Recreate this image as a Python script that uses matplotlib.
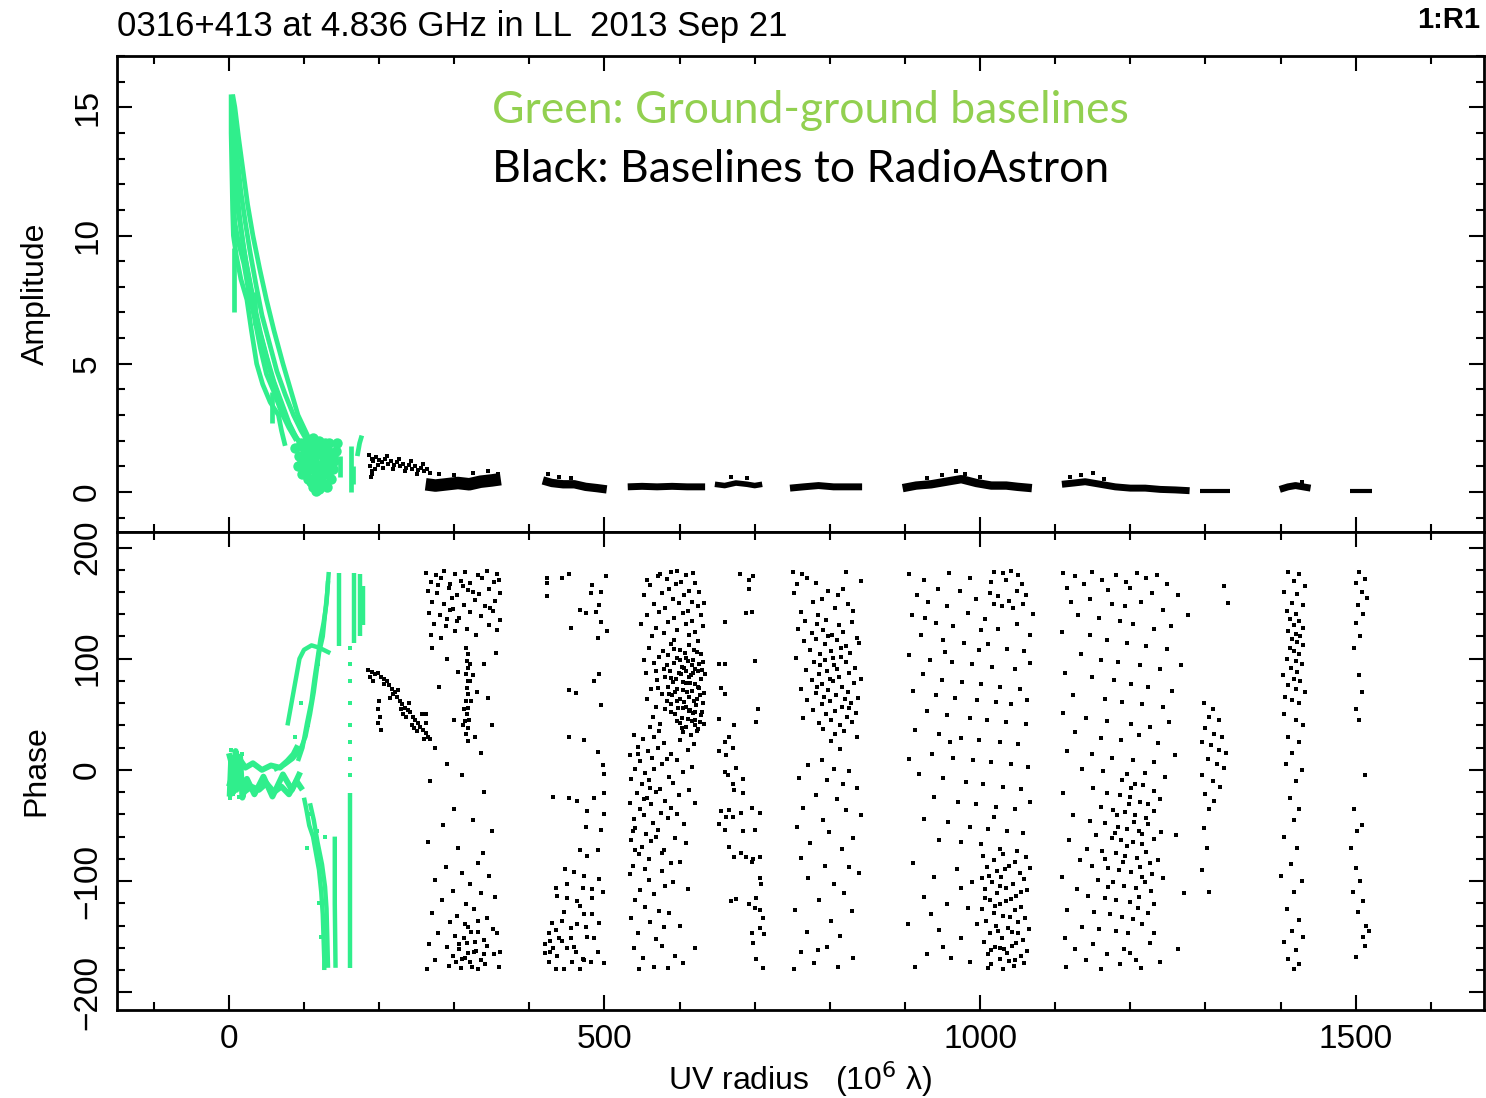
import matplotlib
matplotlib.use('Agg')
import matplotlib.pyplot as plt
from matplotlib.ticker import MultipleLocator

# ---------------------------------------------------------------- data
# UV radius in units of 10^6 lambda; amplitude in Jy; phase in degrees

title = "0316+413 at 4.836 GHz in LL  2013 Sep 21"
panel_id = "1:R1"
note_green = "Green: Ground-ground baselines"
note_black = "Black: Baselines to RadioAstron"

# ground-ground amplitude tracks
ground_amp_tracks = [
    [(3, 15.5), (3, 14.0), (4, 12.5), (5, 11.0), (6, 10.0), (10, 9.2), (16, 8.3), (24, 7.5), (30, 6.3),
     (37, 5.0), (45, 4.2), (55, 3.5), (66, 3.0), (70, 2.4), (75, 1.8)],
    [(5, 15.5), (8, 15.0), (13, 13.8), (19, 12.5), (25, 11.2), (32, 10.0), (41, 8.7), (50, 7.5),
     (60, 6.3), (72, 5.0), (82, 4.0), (92, 3.0), (100, 2.5), (108, 2.0)],
    [(4, 15.0), (6, 13.5), (10, 12.0), (14, 10.8), (19, 9.6), (26, 8.5), (34, 7.3), (42, 6.2), (51, 5.2),
     (60, 4.3), (70, 3.5), (80, 2.7), (90, 2.1), (98, 1.8)],
    [(4, 14.2), (8, 12.6), (12, 11.0), (17, 10.1), (23, 8.9), (30, 7.8), (38, 6.6), (47, 5.6), (56, 4.6),
     (66, 3.7), (76, 2.9), (86, 2.3), (95, 1.9)],
    [(6, 14.5), (11, 13.1), (16, 11.7), (22, 10.5), (28, 9.4), (36, 8.1), (44, 6.9), (54, 5.8), (64, 4.7),
     (75, 3.8), (86, 3.0), (96, 2.4), (104, 2.0)],
    [(5, 11.8), (8, 10.5), (13, 9.7), (20, 8.9), (27, 7.7), (34, 6.8), (42, 5.6), (50, 4.6), (60, 3.9),
     (70, 3.1), (80, 2.5), (90, 2.0)],
    [(7, 7.0), (7, 9.5)],
    [(57, 2.7), (57, 3.9)],
    [(35, 6.5), (35, 7.8)],
    [(148, 0.6), (148, 1.4)],
    [(162, 0.0), (162, 1.8)],
    [(165, 0.3), (165, 1.0)],
    [(171, 1.4), (174, 1.9), (177, 2.2)],
]
ground_amp_blob = [
    (96, 1.9), (100, 1.7), (104, 2.0), (108, 1.8), (112, 2.1), (116, 1.9), (120, 2.0), (124, 1.8),
    (128, 1.9), (132, 1.6), (136, 1.5), (140, 1.2), (94, 1.4), (98, 1.2), (102, 1.5), (106, 1.3),
    (110, 1.6), (114, 1.4), (118, 1.6), (122, 1.5), (126, 1.3), (130, 1.4), (134, 1.1), (138, 0.9),
    (100, 0.9), (104, 0.8), (108, 1.0), (112, 0.9), (116, 1.1), (120, 0.9), (124, 1.0), (128, 0.8),
    (132, 0.7), (136, 0.5), (106, 0.5), (110, 0.4), (114, 0.6), (118, 0.3), (122, 0.5), (126, 0.3),
    (130, 0.2), (116, 0.05), (120, 0.1), (112, 0.2), (142, 1.6), (144, 1.9), (88, 1.7), (92, 1.0),
    (103, 1.1), (127, 1.6), (133, 1.9), (139, 1.4), (97, 0.7), (124, 0.65),
]

# space-baseline amplitudes: scan-averaged bands plus scattered points
space_amp_bands = [
    [(262, 0.3), (275, 0.25), (290, 0.3), (305, 0.35), (320, 0.3), (335, 0.4), (350, 0.45), (362, 0.5)],
    [(418, 0.45), (430, 0.35), (445, 0.3), (460, 0.3), (475, 0.2), (490, 0.15), (503, 0.1)],
    [(531, 0.2), (550, 0.22), (570, 0.2), (590, 0.22), (610, 0.2), (634, 0.2)],
    [(647, 0.3), (660, 0.25), (675, 0.35), (690, 0.3), (700, 0.25), (710, 0.3)],
    [(747, 0.15), (765, 0.2), (785, 0.25), (805, 0.2), (825, 0.2), (843, 0.2)],
    [(897, 0.15), (915, 0.25), (935, 0.3), (955, 0.4), (975, 0.5), (995, 0.35), (1015, 0.25),
     (1035, 0.25), (1050, 0.2), (1069, 0.15)],
    [(1109, 0.3), (1125, 0.35), (1140, 0.4), (1160, 0.3), (1180, 0.2), (1200, 0.15), (1220, 0.15),
     (1240, 0.1), (1260, 0.08), (1279, 0.05)],
    [(1293, 0.05), (1310, 0.05), (1333, 0.05)],
    [(1399, 0.1), (1410, 0.2), (1420, 0.25), (1430, 0.2), (1440, 0.15)],
    [(1492, 0.05), (1505, 0.05), (1522, 0.05)],
]
space_amp_points = [
    (186, 1.45), (190, 1.3), (192, 1.2), (196, 1.35), (200, 1.25), (204, 1.15), (208, 1.3), (212, 1.1),
    (216, 1.2), (220, 1.05), (224, 1.15), (228, 1.0), (232, 1.1), (236, 0.95), (240, 1.05), (244, 0.9),
    (248, 1.0), (252, 0.85), (256, 0.95), (260, 0.8), (264, 0.9), (268, 0.75), (188, 1.0), (190, 0.8),
    (194, 0.9), (198, 1.05), (205, 0.95), (210, 1.4), (218, 0.9), (226, 1.3), (234, 0.8), (242, 1.2),
    (250, 0.7), (258, 1.1), (189, 0.6), (191, 0.7),
    (280, 0.7), (300, 0.65), (325, 0.75), (345, 0.8), (358, 0.7),
    (425, 0.7), (440, 0.6), (455, 0.55), (668, 0.6), (690, 0.55),
    (930, 0.55), (950, 0.65), (968, 0.8), (980, 0.7), (1000, 0.6),
    (1120, 0.6), (1135, 0.65), (1150, 0.75), (1165, 0.5), (1428, 0.4),
]

# ground-ground phases
ground_phase_tracks = [
    [(0, -15), (5, -5), (10, -18), (15, -8), (20, -20), (30, -15), (40, -18), (50, -12), (60, -20),
     (70, -15), (80, -22), (90, -10), (98, -18)],
    [(0, 15), (4, 5), (8, 12), (12, -2), (16, 8), (22, 2), (32, 6), (44, 0), (56, 4), (68, 2),
     (78, 8), (86, 14), (92, 22)],
    [(1, -24), (3, 10), (6, -20), (9, 17), (12, -12), (15, 12), (18, -25), (24, -8), (34, -22),
     (46, -6), (58, -24), (72, -4), (84, -18), (95, -2)],
    [(60, 0), (75, 5), (85, 10), (95, 18), (102, 30), (108, 50), (113, 70), (117, 90), (120, 105),
     (125, 120), (128, 140), (131, 160), (133, 178)],
    [(78, 40), (82, 55), (86, 70), (90, 85), (94, 100), (100, 108), (110, 112), (120, 110), (135, 105)],
    [(92, 8), (98, 20), (104, 42), (110, 62), (114, 82), (118, 100), (122, 118), (126, 132), (130, 150),
     (132, 170)],
    [(100, -25), (103, -35), (107, -50), (112, -60), (116, -75), (120, -90), (123, -110), (125, -130),
     (126, -150), (127, -170), (127, -180)],
    [(108, -30), (113, -45), (118, -65), (124, -85), (128, -105), (130, -125), (131, -150), (132, -178)],
    [(141, -60), (141, -120), (142, -178)],
    [(146, 111), (146, 177)],
    [(161, -21), (161, -178)],
    [(166, 114), (166, 177)],
    [(174, 120), (174, 176)],
    [(178, 130), (178, 165)],
]
ground_phase_points = [
    (1, -25), (3, 18), (6, -22), (9, 16), (13, -24), (17, 14), (2, 0), (8, -10), (14, 5), (19, -12),
    (161, 110), (161, 95), (161, 80), (161, 60), (161, 40), (161, 25), (161, 10), (161, -5),
    (118, 95), (105, 40), (96, 60), (88, 30), (110, -40), (117, -55), (104, -70), (120, -120),
    (122, -150), (128, -60),
]

# space-baseline phases, grouped by scan
space_phase_a = [
    (185, 90), (190, 88), (194, 86), (198, 87), (202, 84), (206, 82), (210, 80), (213, 76), (217, 73),
    (221, 70), (224, 66), (228, 62), (231, 59), (235, 56), (238, 54), (241, 52), (245, 48), (248, 45),
    (252, 42), (255, 39), (258, 36), (262, 33), (265, 30), (268, 28), (200, 62), (199, 55), (201, 48),
    (198, 42), (202, 36), (215, 65), (225, 72), (232, 50), (240, 60), (250, 35), (257, 50), (262, 42),
    (244, 40), (236, 48), (188, 84), (192, 80), (207, 77), (219, 68), (229, 55), (247, 38), (260, 28),
]
space_phase_b = [
    (263, 177), (276, 175), (287, 179), (301, 176), (314, 178), (331, 175), (344, 179), (357, 176),
    (269, 169), (283, 173), (294, 167), (309, 170), (321, 168), (337, 173), (353, 169), (265, 161),
    (277, 159), (293, 164), (304, 157), (319, 162), (333, 158), (346, 163), (361, 159), (271, 151),
    (286, 149), (297, 155), (313, 148), (327, 153), (341, 147), (354, 152), (267, 141), (281, 139),
    (295, 144), (307, 137), (321, 142), (335, 138), (351, 143), (273, 131), (289, 129), (304, 134),
    (317, 127), (346, 130), (361, 135), (269, 121), (283, 119), (301, 125), (329, 121), (357, 126),
    (279, 166), (325, 160), (348, 146), (290, 136), (312, 165), (360, 171), (299, 145),
    (316, 110), (318, 104), (317, 98), (319, 92), (316, 86), (318, 80), (317, 74), (319, 68), (316, 62),
    (318, 56), (317, 50), (315, 44), (318, 38), (316, 32), (319, 26), (321, 95), (321, 80), (322, 62),
    (320, 45), (312, 40), (313, 55), (325, 85), (328, 30), (330, 70),
    (270, 110), (290, 100), (305, 88), (340, 95), (355, 105), (280, 75), (345, 65), (262, 50), (300, 45),
    (350, 40), (275, 20), (335, 15), (290, 5), (310, -5), (268, -10), (340, -20), (300, -35), (285, -50),
    (325, -45), (350, -55), (265, -65), (305, -70), (338, -75),
    (289, -87), (311, -93), (331, -84), (274, -99), (321, -103), (346, -95), (299, -109), (336, -111),
    (284, -117), (316, -121), (354, -114), (271, -129), (304, -131), (326, -125), (343, -133), (294, -137),
    (319, -141), (332, -136), (351, -143), (279, -147), (301, -149), (313, -151), (323, -146), (339, -153),
    (357, -147), (267, -157), (291, -159), (307, -161), (317, -156), (329, -163), (344, -158), (299, -167),
    (314, -169), (326, -164), (336, -171), (353, -166), (361, -164), (274, -171), (293, -176), (309, -178),
    (321, -173), (331, -179), (341, -175), (359, -177), (264, -179), (306, -157), (314, -139), (331, -146),
    (318, -165), (324, -177), (311, -170), (340, -166), (328, -155), (302, -173),
]
space_phase_c = [
    (423, 173), (423, 168), (444, 173), (453, 176), (484, 166), (482, 159), (495, 160), (502, 174),
    (423, 156), (493, 148), (468, 144), (475, 141), (489, 142), (455, 128), (495, 133), (504, 125),
    (491, 119), (493, 86), (486, 80), (453, 72), (462, 69), (495, 58), (453, 30), (473, 27), (491, 16),
    (498, 4), (500, -4), (432, -24), (453, -25), (464, -28), (486, -25), (500, -21), (477, -37),
    (500, -40), (475, -51), (495, -54), (468, -72), (477, -77), (491, -72), (448, -89), (459, -92),
    (473, -95), (493, -98), (435, -106), (450, -103), (471, -106), (484, -107), (498, -110), (437, -113),
    (450, -115), (464, -118), (484, -115), (430, -138), (444, -136), (446, -128), (468, -122), (473, -130),
    (484, -130), (426, -147), (435, -144), (439, -151), (455, -142), (464, -139), (475, -141), (493, -138),
    (421, -157), (428, -154), (432, -160), (444, -154), (455, -151), (459, -159), (477, -150), (486, -151),
    (421, -165), (428, -164), (437, -167), (450, -160), (462, -164), (471, -170), (491, -164), (426, -173),
    (457, -173), (473, -171), (482, -173), (500, -174), (435, -179), (446, -179), (468, -179),
]
space_phase_d = [
    (588, 178), (571, 174), (583, 172), (602, 169), (609, 175), (561, 166), (586, 163), (595, 167),
    (613, 161), (621, 168), (553, 157), (577, 159), (591, 154), (606, 157), (617, 151), (626, 160),
    (566, 149), (581, 146), (599, 150), (611, 143), (624, 147), (557, 139), (573, 142), (592, 137),
    (604, 141), (616, 134), (629, 139), (548, 131), (569, 128), (584, 133), (597, 126), (608, 131),
    (620, 124), (631, 129), (563, 120), (579, 123), (593, 117), (612, 121), (625, 116), (574, 176),
    (597, 179), (618, 177), (556, 171), (632, 150),
    (589, 113), (601, 108), (613, 112), (623, 106), (585, 103), (597, 101), (607, 105), (618, 99),
    (629, 104), (593, 96), (603, 93), (611, 98), (621, 91), (631, 97), (587, 89), (599, 87), (606, 92),
    (615, 85), (625, 89), (595, 82), (604, 79), (612, 84), (620, 77), (628, 82), (584, 75), (597, 73),
    (608, 78), (616, 71), (624, 75), (632, 69), (590, 67), (601, 64), (610, 70), (619, 62), (627, 67),
    (588, 59), (598, 56), (606, 61), (614, 54), (622, 58), (630, 52), (594, 50), (603, 47), (612, 53),
    (620, 45), (628, 49), (600, 42), (609, 39), (617, 44), (625, 37), (633, 41), (605, 34), (615, 31),
    (623, 35), (592, 109), (609, 101), (626, 95), (583, 94), (616, 94), (591, 79), (602, 86), (618, 87),
    (634, 86), (586, 68), (605, 72), (623, 64), (596, 62), (613, 66), (631, 60), (609, 57), (589, 52),
    (618, 51), (596, 44), (611, 46), (627, 43), (603, 38), (620, 40), (614, 78), (600, 99), (589, 83),
    (626, 74), (608, 89), (619, 108), (594, 70), (621, 52), (630, 90), (604, 56),
    (559, 110), (573, 102), (566, 96), (579, 91), (555, 87), (570, 81), (581, 84), (562, 73), (576, 68),
    (557, 64), (569, 57), (580, 55), (565, 48), (574, 41), (561, 39), (578, 107), (552, 99), (568, 89),
    (583, 62), (571, 74),
    (539, 31), (551, 28), (566, 30), (579, 24), (601, 27), (619, 23), (544, 21), (558, 17), (571, 20),
    (589, 14), (611, 18), (534, 13), (547, 8), (563, 11), (577, 5), (597, 9), (617, 3), (540, 1),
    (554, -3), (566, 1), (586, -6), (604, -2), (536, -8), (550, -13), (559, -9), (574, -17), (591, -12),
    (613, -18), (543, -21), (557, -25), (569, -20), (581, -28), (599, -23), (534, -30), (547, -35),
    (562, -31), (575, -39), (589, -34), (539, -44), (553, -41), (564, -48), (584, -43), (606, -49),
    (541, -52), (555, -58), (571, -54), (594, -61), (535, -63), (550, -69), (562, -64), (579, -72),
    (609, -66), (546, -76), (559, -80), (576, -75), (601, -83), (538, -86), (554, -89), (589, -84),
    (545, 14), (560, -16), (538, -55), (568, -60), (552, -26), (583, 10), (596, -40), (620, -30),
    (572, 35), (540, -72),
    (534, -94), (559, -99), (576, -91), (591, -101), (547, -108), (566, -112), (581, -104), (611, -107),
    (541, -117), (554, -123), (573, -127), (536, -133), (561, -137), (586, -129), (601, -140), (544, -147),
    (569, -152), (579, -141), (539, -160), (576, -158), (594, -167), (551, -169), (566, -177), (604, -174),
    (546, -179), (585, -178), (620, -160),
]
space_phase_e = [
    (680, 176), (693, 171), (698, 174), (693, 163), (689, 141), (696, 142), (660, 133), (700, 98),
    (653, 95), (660, 95), (655, 74), (660, 68), (705, 55), (653, 46), (702, 43), (673, 40), (666, 30),
    (660, 25), (671, 20), (653, 17), (662, 13), (675, 2), (660, -2), (664, -5), (671, -13), (684, -8),
    (673, -18), (684, -21), (655, -37), (666, -36), (662, -42), (671, -42), (682, -39), (696, -34),
    (707, -39), (653, -49), (660, -54), (684, -55), (700, -54), (666, -69), (673, -78), (682, -75),
    (689, -78), (698, -80), (707, -78), (696, -83), (707, -97), (709, -103), (702, -115), (675, -116),
    (668, -118), (693, -121), (700, -124), (707, -126), (711, -133), (696, -147), (713, -148), (698, -156),
    (707, -142), (702, -170), (711, -178),
]
space_phase_f = [
    (751, 178), (763, 176), (822, 178), (756, 167), (817, 163), (781, 168), (798, 161), (811, 157),
    (753, 159), (789, 154), (777, 151), (824, 149), (807, 146), (761, 142), (831, 143), (784, 139),
    (770, 173), (841, 170),
    (767, 134), (783, 131), (795, 135), (812, 130), (829, 133), (758, 127), (776, 123), (791, 126),
    (803, 121), (818, 124), (836, 119), (765, 116), (781, 118), (794, 113), (809, 117), (821, 111),
    (839, 114), (773, 108), (787, 104), (801, 107), (815, 102), (827, 105), (755, 101), (779, 97),
    (793, 99), (805, 94), (821, 97), (833, 92), (768, 90), (785, 86), (796, 89), (812, 84), (826, 87),
    (841, 82), (776, 81), (789, 77), (804, 80), (816, 75), (832, 78), (761, 73), (781, 69), (797, 72),
    (808, 67), (824, 70), (838, 65), (770, 63), (789, 59), (800, 62), (816, 57), (828, 60), (778, 54),
    (795, 50), (807, 53), (823, 48), (835, 51), (764, 47), (785, 42), (801, 45), (813, 40), (829, 43),
    (791, 37), (807, 32), (819, 35), (836, 30), (797, 120), (787, 94), (810, 91), (800, 82), (820, 64),
    (792, 66), (815, 110), (783, 75), (825, 56), (804, 101),
    (801, 26), (814, 19), (789, 9), (771, 4), (806, 1), (826, -1), (759, -7), (796, -9), (817, -13),
    (836, -16), (781, -23), (809, -26), (764, -34), (821, -36), (791, -45), (842, -41), (756, -51),
    (799, -56), (831, -61), (774, -66), (816, -71), (761, -79), (794, -86), (826, -87), (839, -93),
    (771, -97), (806, -103), (819, -111), (786, -117), (754, -126), (829, -127), (801, -136), (769, -146),
    (814, -149), (796, -159), (761, -164), (831, -169), (779, -174), (811, -177), (753, -179), (784, -162),
]
space_phase_g = [
    (1019, 178), (1031, 177), (1041, 179), (1051, 175), (1015, 169), (1056, 167), (1013, 159),
    (1061, 157), (1019, 149), (1044, 146), (1029, 147), (1057, 149), (1034, 171), (1049, 161),
    (1024, 156), (1038, 152),
    (906, 176), (926, 171), (959, 177), (986, 173), (944, 163), (916, 157), (973, 161), (994, 154),
    (931, 151), (956, 147), (984, 141), (1006, 136), (909, 139), (941, 132), (964, 129), (1001, 126),
    (1024, 127), (1049, 131), (1066, 121), (921, 121), (951, 117), (979, 114), (1011, 113), (1036, 109),
    (1059, 107), (906, 103), (934, 99), (963, 97), (989, 95), (1016, 93), (1046, 91), (1067, 96),
    (924, 86), (949, 81), (976, 79), (1001, 77), (1026, 75), (1053, 73), (911, 71), (941, 67), (967, 65),
    (996, 63), (1021, 61), (1041, 59), (1063, 63), (953, 106), (998, 108), (927, 137), (1071, 140),
    (929, 53), (956, 49), (986, 47), (1009, 45), (1034, 43), (1061, 41), (914, 36), (946, 32), (974, 29),
    (999, 27), (1026, 25), (1051, 23), (936, 14), (964, 11), (991, 9), (1014, 7), (1041, 5), (1064, 3),
    (919, -4), (951, -7), (981, -11), (1004, -13), (1031, -15), (1054, -17), (939, -24), (971, -29),
    (994, -31), (1021, -33), (1046, -35), (1067, -29), (926, -44), (957, -47), (986, -51), (1011, -53),
    (1036, -55), (1057, -57), (946, -63), (974, -65), (1001, -67), (1026, -71), (1049, -73), (960, 25),
    (1018, -42), (905, 10),
    (1004, -77), (1019, -81), (1031, -76), (1047, -83), (1061, -78), (1009, -87), (1023, -91),
    (1039, -86), (1053, -93), (1066, -88), (1002, -97), (1016, -101), (1028, -96), (1044, -103),
    (1058, -98), (1007, -107), (1022, -111), (1034, -106), (1048, -113), (1063, -108), (1013, -117),
    (1027, -121), (1041, -116), (1055, -123), (1003, -125), (1018, -129), (1030, -131), (1046, -126),
    (1060, -133), (1008, -136), (1021, -140), (1037, -142), (1051, -137), (1065, -143), (1013, -147),
    (1029, -151), (1043, -146), (1057, -153), (1005, -155), (1020, -159), (1032, -161), (1048, -156),
    (1062, -163), (1010, -166), (1026, -170), (1038, -172), (1054, -167), (1015, -175), (1031, -179),
    (1045, -176), (1059, -174), (1012, -95), (1026, -104), (1040, -132), (1015, -162), (1035, -118),
    (1050, -147), (1024, -145), (1036, -165), (1006, -115), (1042, -158), (1020, -122), (1033, -89),
    (1055, -110), (1011, -178), (1027, -160), (1047, -171),
    (911, -84), (939, -96), (969, -89), (989, -101), (926, -114), (956, -121), (984, -124), (904, -139),
    (946, -144), (974, -151), (996, -139), (929, -166), (961, -169), (986, -173), (914, -177), (951, -159),
    (975, -106), (935, -130),
]
space_phase_h = [
    (1111, 177), (1126, 174), (1149, 178), (1163, 171), (1181, 175), (1194, 169), (1209, 177),
    (1221, 173), (1236, 175), (1249, 167), (1116, 164), (1139, 167), (1171, 162), (1199, 164),
    (1229, 159), (1264, 157), (1121, 151), (1147, 154), (1176, 149), (1193, 147), (1214, 151),
    (1243, 144), (1277, 139), (1131, 139), (1159, 137), (1186, 134), (1204, 131), (1231, 127),
    (1254, 129), (1109, 124), (1146, 121), (1169, 117), (1196, 114), (1221, 111), (1249, 109),
    (1134, 104), (1161, 99), (1184, 97), (1213, 94), (1239, 91), (1267, 94), (1113, 87), (1149, 84),
    (1179, 81), (1201, 77), (1224, 75), (1256, 71), (1124, 67), (1166, 64), (1189, 61), (1216, 59),
    (1244, 57),
    (1111, 51), (1141, 47), (1169, 44), (1201, 41), (1226, 39), (1251, 43), (1127, 34), (1161, 29),
    (1187, 27), (1211, 31), (1237, 24), (1116, 17), (1149, 14), (1176, 11), (1204, 9), (1231, 7),
    (1259, 13), (1136, 1), (1164, -1), (1196, -4), (1219, -3), (1246, -6),
    (1189, -9), (1206, -13), (1217, -14), (1231, -19), (1151, -16), (1169, -21), (1186, -23), (1199, -24),
    (1213, -29), (1224, -31), (1239, -26), (1161, -33), (1177, -36), (1193, -38), (1206, -41), (1221, -43),
    (1232, -37), (1146, -46), (1167, -48), (1184, -51), (1195, -53), (1211, -55), (1223, -49), (1241, -56),
    (1154, -59), (1176, -61), (1187, -63), (1203, -65), (1215, -67), (1231, -62), (1143, -71), (1162, -73),
    (1181, -75), (1193, -77), (1209, -79), (1221, -74), (1237, -81), (1149, -86), (1171, -88), (1185, -90),
    (1201, -92), (1213, -87), (1229, -94), (1157, -99), (1177, -101), (1191, -104), (1207, -106),
    (1219, -101), (1244, -97), (1144, -113), (1166, -115), (1181, -117), (1199, -119), (1211, -114),
    (1231, -121), (1152, -128), (1173, -130), (1189, -132), (1204, -134), (1223, -129), (1159, -143),
    (1181, -145), (1197, -147), (1216, -139), (1198, -31), (1216, -58), (1190, -83), (1226, -84),
    (1205, -47), (1182, -41), (1170, -105), (1215, -96), (1195, -68), (1210, -124), (1180, -57),
    (1228, -109), (1166, -80), (1201, -16),
    (1111, -21), (1124, -41), (1119, -63), (1133, -81), (1109, -96), (1129, -107), (1116, -126),
    (1136, -141), (1113, -151), (1126, -161), (1141, -171), (1114, -177), (1151, -157), (1169, -166),
    (1191, -161), (1207, -171), (1226, -156), (1239, -173), (1161, -179), (1186, -175), (1214, -178),
    (1264, -161), (1271, -111), (1261, -59), (1199, -165), (1232, -147),
]
space_phase_i = [
    (1298, 60), (1310, 55), (1305, 48), (1318, 45), (1300, 38), (1312, 32), (1322, 30), (1295, 25),
    (1308, 22), (1318, 18), (1328, 15), (1303, 10), (1315, 5), (1325, 2), (1296, -5), (1310, -10),
    (1320, -15), (1300, -22), (1312, -28), (1305, -35), (1298, -52), (1302, -70), (1296, -90),
    (1305, -110), (1330, 150), (1325, 165),
]
space_phase_j = [
    (1410, 178), (1425, 176), (1418, 170), (1432, 165), (1405, 160), (1422, 158), (1415, 150), (1430, 148),
    (1408, 143), (1420, 140), (1412, 136), (1424, 134), (1418, 130), (1430, 128), (1410, 125), (1420, 122),
    (1426, 120), (1415, 118), (1422, 115), (1430, 112), (1412, 110), (1418, 107), (1425, 104), (1408, 100),
    (1420, 98), (1428, 95), (1414, 92), (1422, 88), (1403, 85), (1418, 82), (1426, 80), (1410, 76),
    (1420, 73), (1432, 70), (1406, 66), (1415, 63), (1425, 60),
    (1404, 50), (1420, 45), (1430, 40), (1410, 30), (1424, 25), (1415, 15), (1407, 5), (1428, 0),
    (1420, -10), (1412, -25), (1425, -35), (1418, -45), (1405, -60), (1422, -70), (1414, -85), (1400, -95),
    (1428, -100), (1418, -110), (1408, -125), (1425, -135), (1415, -145), (1430, -150), (1405, -155),
    (1420, -162), (1410, -170), (1425, -175), (1418, -179),
]
space_phase_k = [
    (1505, 178), (1512, 172), (1500, 168), (1508, 160), (1515, 155), (1503, 148), (1510, 140), (1500, 132),
    (1506, 120), (1498, 110), (1504, 85), (1508, 70), (1500, 55), (1505, 45), (1512, -5), (1498, -35),
    (1508, -50), (1502, -55), (1494, -70), (1500, -88), (1506, -100), (1496, -110), (1510, -118),
    (1503, -128), (1514, -140), (1510, -150), (1518, -145), (1512, -158), (1500, -168),
]
space_phase_scans = [space_phase_a, space_phase_b, space_phase_c, space_phase_d, space_phase_e,
                     space_phase_f, space_phase_g, space_phase_h, space_phase_i, space_phase_j,
                     space_phase_k]

# ---------------------------------------------------------------- style
GROUND = '#30ee8c'
NOTE_GREEN = '#92d050'
plt.rcParams['font.family'] = ['Liberation Sans', 'DejaVu Sans']


def xy(points):
    return [p[0] for p in points], [p[1] for p in points]


def dress(ax, ymaj, ymin, ylim):
    ax.set_xlim(-149, 1671)
    ax.set_ylim(*ylim)
    ax.xaxis.set_major_locator(MultipleLocator(500))
    ax.xaxis.set_minor_locator(MultipleLocator(100))
    ax.yaxis.set_major_locator(MultipleLocator(ymaj))
    ax.yaxis.set_minor_locator(MultipleLocator(ymin))
    ax.tick_params(which='both', direction='in', top=True, right=True, width=1.5, labelsize=24, pad=10)
    ax.tick_params(which='major', length=11)
    ax.tick_params(which='minor', length=6)
    ax.tick_params(axis='y', labelrotation=90)
    for lbl in ax.get_yticklabels():
        lbl.set_verticalalignment('center')
    for s in ax.spines.values():
        s.set_linewidth(2)


fig = plt.figure(figsize=(14.86, 10.98), dpi=100)
ax_amp = fig.add_axes([0.0787, 0.5155, 0.92, 0.4335])
ax_ph = fig.add_axes([0.0787, 0.0801, 0.92, 0.4354])

# amplitude panel
for tr in ground_amp_tracks:
    ax_amp.plot(*xy(tr), color=GROUND, lw=3.4, solid_capstyle='butt')
ax_amp.plot(*xy(ground_amp_blob), ls='none', marker='o', ms=7.5, mew=0, color=GROUND)
band_widths = [9, 6, 5, 4, 5, 6, 5, 3, 5, 3]
for band, w in zip(space_amp_bands, band_widths):
    ax_amp.plot(*xy(band), color='black', lw=w, solid_capstyle='butt')
ax_amp.plot(*xy(space_amp_points), ls='none', marker='s', ms=3, mew=0, color='black')
dress(ax_amp, 5, 1, (-1.56, 17.0))
ax_amp.tick_params(axis='x', labelbottom=False)
ax_amp.set_ylabel('Amplitude', fontsize=23, labelpad=15)

ax_amp.text(350, 14.4, note_green, color=NOTE_GREEN, fontsize=32, family='Lato', va='baseline')
ax_amp.text(350, 12.1, note_black, color='black', fontsize=32, family='Lato', va='baseline')

# phase panel
for i, tr in enumerate(ground_phase_tracks):
    ax_ph.plot(*xy(tr), color=GROUND, lw=4.2 if i < 3 else 3.2, solid_capstyle='butt')
ax_ph.plot(*xy(ground_phase_points), ls='none', marker='s', ms=3.2, mew=0, color=GROUND)
for scan in space_phase_scans:
    ax_ph.plot(*xy(scan), ls='none', marker='s', ms=2.9, mew=0, color='black')
dress(ax_ph, 100, 20, (-216, 214))
ax_ph.set_ylabel('Phase', fontsize=23, labelpad=15)
ax_ph.set_xlabel('UV radius   (10$^6$ λ)', fontsize=23, labelpad=3)

fig.text(117 / 1486, 1 - 36 / 1098, title, fontsize=25, va='baseline', ha='left')
fig.text(1480 / 1486, 1 - 28 / 1098, panel_id, fontsize=21, fontweight='bold', va='baseline', ha='right')

fig.savefig('out.png', dpi=100)
